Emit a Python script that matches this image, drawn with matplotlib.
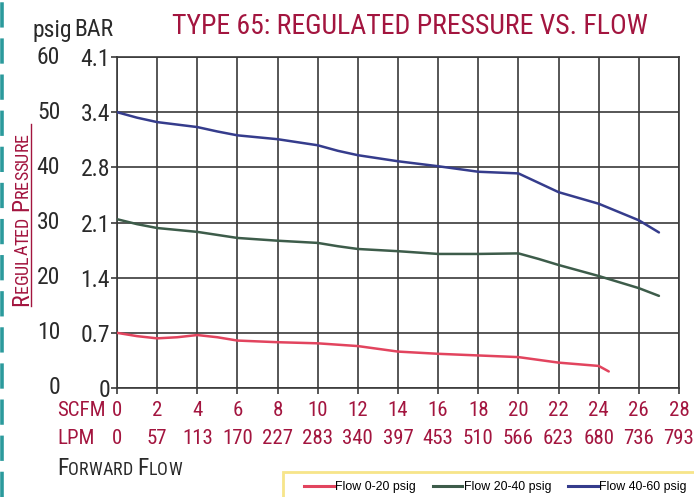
import matplotlib
matplotlib.use("Agg")
import matplotlib.pyplot as plt
from matplotlib.lines import Line2D
from matplotlib.patches import Rectangle

# data (flow in SCFM, pressure in psig)
scfm_ticks = [0, 2, 4, 6, 8, 10, 12, 14, 16, 18, 20, 22, 24, 26, 28]
lpm_ticks = [0, 57, 113, 170, 227, 283, 340, 397, 453, 510, 566, 623, 680, 736, 793]
psig_ticks = [0, 10, 20, 30, 40, 50, 60]
bar_ticks = ["0", "0.7", "1.4", "2.1", "2.8", "3.4", "4.1"]

flow_low = [0, 1, 2, 3, 4, 5, 6, 8, 10, 12, 13, 14, 16, 18, 20, 21, 22, 24, 24.5]
press_low = [10.0, 9.4, 9.0, 9.2, 9.6, 9.2, 8.6, 8.3, 8.1, 7.6, 7.1, 6.6, 6.2, 5.9, 5.6, 5.1, 4.6, 4.0, 3.0]

flow_mid = [0, 1, 2, 4, 6, 8, 10, 11, 12, 14, 16, 18, 20, 21, 22, 24, 26, 27]
press_mid = [30.6, 29.7, 29.0, 28.3, 27.2, 26.7, 26.3, 25.7, 25.2, 24.8, 24.3, 24.3, 24.4, 23.4, 22.3, 20.3, 18.1, 16.7]

flow_high = [0, 1, 2, 4, 5, 6, 8, 10, 11, 12, 14, 16, 18, 20, 21, 22, 24, 26, 27]
press_high = [50.0, 49.0, 48.2, 47.3, 46.5, 45.8, 45.1, 44.0, 43.0, 42.2, 41.1, 40.2, 39.2, 38.9, 37.2, 35.5, 33.4, 30.4, 28.2]

series = [
    (flow_low, press_low, "#e2445e", "Flow 0-20 psig"),
    (flow_mid, press_mid, "#3d5c4a", "Flow 20-40 psig"),
    (flow_high, press_high, "#353c8c", "Flow 40-60 psig"),
]

RED = "#a3153f"
DARK = "#2a2a2a"
GRID = "#3a3a3a"
FONT = ["Roboto Condensed", "Archivo Narrow", "DejaVu Sans"]

W, H = 694, 497
fig = plt.figure(figsize=(W / 100, H / 100), dpi=100)
ax = fig.add_axes([117 / W, 1 - 388 / H, (679 - 117) / W, (388 - 57) / H])

for x, y, c, lab in series:
    ax.plot(x, y, color=c, lw=1.8, label=lab, solid_capstyle="round",
            solid_joinstyle="round", zorder=3)

ax.set_xlim(0, 28)
ax.set_ylim(0, 60)
ax.set_xticks(scfm_ticks)
ax.set_xticklabels([f"{s}\n{l}" for s, l in zip(scfm_ticks, lpm_ticks)],
                   family=FONT, fontsize=15, color=RED, linespacing=1.6)
ax.set_yticks(psig_ticks)
ax.set_yticklabels(bar_ticks, family=FONT, fontsize=17, color=DARK)
ax.grid(True, color=GRID, lw=1.2)
for sp in ax.spines.values():
    sp.set_color(GRID)
    sp.set_linewidth(1.2)
ax.tick_params(direction="out", length=4, width=1.2, color=GRID, pad=1)
ax.tick_params(axis="x", pad=5)

# psig column
for v in psig_ticks:
    ax.text(-0.101, v, str(v), transform=ax.get_yaxis_transform(), ha="right", va="center",
            family=FONT, fontsize=17, color=DARK)

fig.text(32 / W, 1 - 30 / H, "psig", family=FONT, fontsize=17, color=DARK, va="center")
fig.text(74 / W, 1 - 30 / H, "BAR", family=FONT, fontsize=17, color=DARK, va="center")
fig.text(172 / W, 1 - 27 / H, "TYPE 65: REGULATED PRESSURE VS. FLOW", family=FONT,
         fontsize=20, color=RED, va="center")
fig.text(57 / W, 1 - 410 / H, "SCFM", family=FONT, fontsize=15, color=RED, va="center")
fig.text(57 / W, 1 - 438 / H, "LPM", family=FONT, fontsize=15, color=RED, va="center")

fig.canvas.draw()
renderer = fig.canvas.get_renderer()


def small_caps(x, y, text, big, small, color, vertical=False):
    # small caps drawn piece by piece; x, y in pixels from the top-left
    pos = x if not vertical else y
    step = 1 if not vertical else -1
    for word_i, word in enumerate(text.split(" ")):
        if word_i:
            pos += step * big * 0.3
        for i, ch in enumerate(word):
            size = big if i == 0 else small
            if vertical:
                t = fig.text(x / W, 1 - pos / H, ch.upper(), family=FONT, fontsize=size,
                             color=color, rotation=90, ha="left", va="baseline",
                             rotation_mode="anchor")
                pos -= t.get_window_extent(renderer).height
            else:
                t = fig.text(pos / W, 1 - y / H, ch.upper(), family=FONT, fontsize=size,
                             color=color, ha="left", va="baseline")
                pos += t.get_window_extent(renderer).width
    return pos


small_caps(57, 475, "Forward Flow", 17, 13, DARK)
small_caps(28, 306, "Regulated Pressure", 17, 13, RED, vertical=True)
fig.add_artist(Line2D([31 / W, 31 / W], [1 - 306 / H, 1 - 124 / H], color=RED, lw=1.0))

# dashed teal border on the left
fig.add_artist(Line2D([2 / W, 2 / W], [0, 1], color="#2b9a9c", lw=2.6, dashes=(7, 3)))

# legend box (runs off the bottom/right edge like the source)
fig.add_artist(Rectangle((283 / W, -0.1), 0.6, 0.1 + (497 - 472) / H, transform=fig.transFigure,
                         facecolor="white", edgecolor="#f7e58a", lw=2, zorder=1))
handles = [Line2D([], [], color=c, lw=2.2) for _, _, c, _ in series]
leg = fig.legend(handles, [s[3] for s in series], loc="center left",
                 bbox_to_anchor=(304 / W, 1 - 487 / H), ncol=3, frameon=False,
                 prop={"family": "Liberation Sans", "size": 8.9},
                 handlelength=2.4, handletextpad=0.12, columnspacing=1.35,
                 borderpad=0, borderaxespad=0)
leg.set_zorder(2)

fig.savefig("out.png", dpi=100)
